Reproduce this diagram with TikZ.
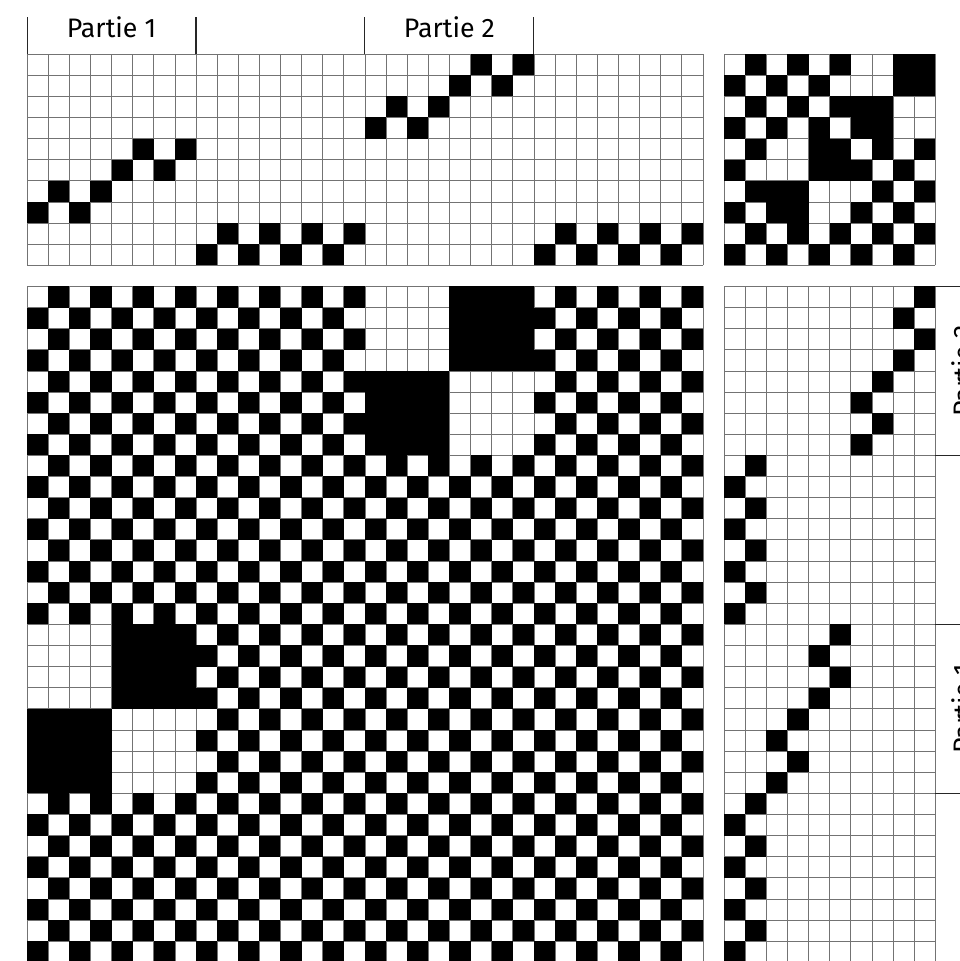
\documentclass[tikz,border=0pt]{standalone}
\usepackage{fontspec}
\setmainfont{Fira Sans}
\usetikzlibrary{positioning}
% draft data: shaft of each warp end, treadle of each pick, tie-up (shaft x treadle)
\def\threading{7,6,7,6,5,4,5,4,9,8,9,8,9,8,9,8,3,2,3,2,1,0,1,0,9,8,9,8,9,8,9,8}
\def\treadling{9,8,9,8,7,6,7,6,1,0,1,0,1,0,1,0,5,4,5,4,3,2,3,2,1,0,1,0,1,0,1,0}
\def\tieup{0,1,0,1,0,1,0,0,1,1,%
1,0,1,0,1,0,0,0,1,1,%
0,1,0,1,0,1,1,1,0,0,%
1,0,1,0,1,0,1,1,0,0,%
0,1,0,0,1,1,0,1,0,1,%
1,0,0,0,1,1,1,0,1,0,%
0,1,1,1,0,0,0,1,0,1,%
1,0,1,1,0,0,1,0,1,0,%
0,1,0,1,0,1,0,1,0,1,%
1,0,1,0,1,0,1,0,1,0}
\tikzset{
  cellgrid/.style={draw=black!55, line width=0.5pt, step=1},
  cellfill/.style={fill=black},
  tickline/.style={draw=black!85, line width=0.7pt},
  partlabel/.style={font=\fontsize{18}{20}\selectfont, inner sep=0pt}
}

\begin{document}
\begin{tikzpicture}[x=0.5cm, y=0.5cm]
  \useasboundingbox (-1.28,2.56) rectangle (44.17,-42.94);
  % grids
  \draw[cellgrid] (0,0) grid (32,-10);
  \draw[cellgrid] (33,0) grid (43,-10);
  \draw[cellgrid] (0,-11) grid (32,-43);
  \draw[cellgrid] (33,-11) grid (43,-43);
  % threading
  \foreach \s [count=\c from 0] in \threading
    \fill[cellfill] (\c,-\s) rectangle ++(1,-1);
  % tie-up
  \foreach \r in {0,...,9}{
    \foreach \j in {0,...,9}{
      \pgfmathtruncatemacro\on{{\tieup}[\r*10+\j]}
      \ifnum\on=1 \fill[cellfill] (33+\j,-\r) rectangle ++(1,-1);\fi
    }
  }
  % treadling
  \foreach \t [count=\i from 0] in \treadling
    \fill[cellfill] (33+\t,-11-\i) rectangle ++(1,-1);
  % drawdown
  \foreach \i in {0,...,31}{
    \pgfmathtruncatemacro\tr{{\treadling}[\i]}
    \foreach \c in {0,...,31}{
      \pgfmathtruncatemacro\sh{{\threading}[\c]}
      \pgfmathtruncatemacro\on{{\tieup}[\sh*10+\tr]}
      \ifnum\on=1 \fill[cellfill] (\c,-11-\i) rectangle ++(1,-1);\fi
    }
  }
  % part brackets
  \foreach \x in {0,8,16,24}
    \draw[tickline] (\x,0) -- (\x,1.75);
  \foreach \y in {-11,-19,-27,-35}
    \draw[tickline] (43,\y) -- (44.9,\y);
  \node[partlabel] (top1) at (4,1.25) {Partie 1};
  \node[partlabel] (top2) at (20,1.25) {Partie 2};
  \node[partlabel, rotate=90] (side2) at (44.3,-15) {Partie 2};
  \node[partlabel, rotate=90] (side1) at (44.3,-31) {Partie 1};
\end{tikzpicture}
\end{document}
